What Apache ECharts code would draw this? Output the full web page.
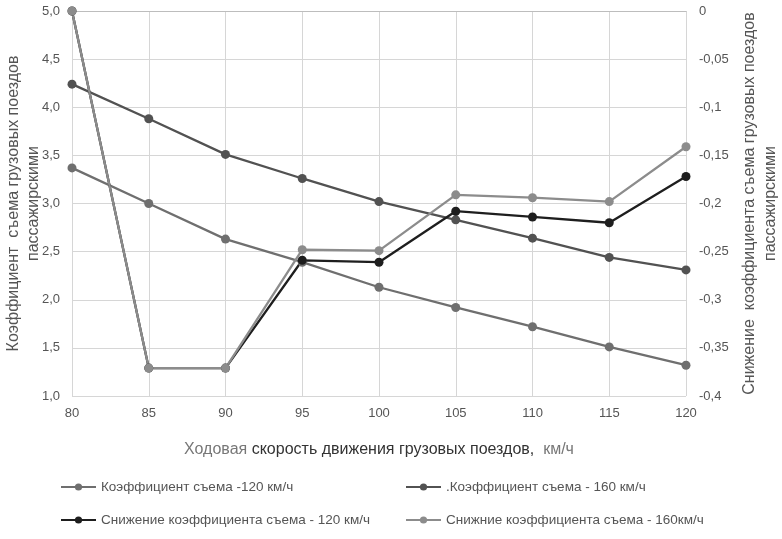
<!DOCTYPE html>
<html><head><meta charset="utf-8">
<script src="https://cdn.jsdelivr.net/npm/echarts@6/dist/echarts.min.js"></script>
<style>html,body{margin:0;padding:0;background:#fff}#c{width:782px;height:539px}</style>
</head><body><div id="c"></div>
<script>
const categories = ['80','85','90','95','100','105','110','115','120'];
const coef120 = [3.37, 3.00, 2.63, 2.39, 2.13, 1.92, 1.72, 1.51, 1.32];
const coef160 = [4.24, 3.88, 3.51, 3.26, 3.02, 2.83, 2.64, 2.44, 2.31];
const drop120 = [0, -0.371, -0.371, -0.259, -0.261, -0.208, -0.214, -0.220, -0.172];
const drop160 = [0, -0.371, -0.371, -0.248, -0.249, -0.191, -0.194, -0.198, -0.141];
const names = ['Коэффициент съема -120 км/ч', '.Коэффициент съема - 160 км/ч', 'Снижение коэффициента съема - 120 км/ч', 'Снижние коэффициента съема - 160км/ч'];
const colors = ['#6f6f6f', '#525252', '#1e1e1e', '#8c8c8c'];
const font = '"Liberation Sans", Arial, sans-serif';

const chart = echarts.init(document.getElementById('c'), null, {renderer: 'canvas'});
function mk(i, data, yIdx) {
  return {
    name: names[i], type: 'line', data: data, yAxisIndex: yIdx,
    symbol: 'circle', symbolSize: 9, color: colors[i],
    lineStyle: {width: 2.3, color: colors[i]}, itemStyle: {color: colors[i]},
    emphasis: {disabled: true}, animation: false
  };
}
function legendFor(data, left) {
  return {
    data: data, left: left, orient: 'vertical', top: 480, padding: 0, height: 59,
    itemGap: 19, itemWidth: 35, itemHeight: 9,
    textStyle: {color: '#555', fontSize: 13.5, fontFamily: font}
  };
}
chart.setOption({
  backgroundColor: '#fff',
  textStyle: {fontFamily: font},
  grid: {left: 72, right: 96, top: 11, bottom: 143, containLabel: false, outerBoundsMode: 'none'},
  xAxis: {
    type: 'category', data: categories, boundaryGap: false,
    axisLine: {lineStyle: {color: '#bdbdbd', width: 1}},
    axisTick: {show: false},
    axisLabel: {color: '#555', fontSize: 13, margin: 11, fontFamily: font},
    splitLine: {show: true, lineStyle: {color: '#d6d6d6', width: 1}},
    name: '{a|Ходовая }{b|скорость движения грузовых поездов,}{a|  км/ч}',
    nameLocation: 'middle', nameGap: 46,
    nameTextStyle: {rich: {
      a: {color: '#777', fontSize: 16, fontFamily: font},
      b: {color: '#333', fontSize: 16, fontFamily: font}
    }}
  },
  yAxis: [{
    type: 'value', min: 1.0, max: 5.0, interval: 0.5, position: 'left',
    axisLine: {show: false}, axisTick: {show: false},
    axisLabel: {color: '#555', fontSize: 13, margin: 12, fontFamily: font,
      formatter: v => v.toFixed(1).replace('.', ',')},
    splitLine: {show: true, lineStyle: {color: '#d6d6d6', width: 1}},
    name: 'Коэффициент  съема грузовых поездов\nпассажирскими',
    nameLocation: 'middle', nameGap: 28, nameRotate: 90, nameMoveOverlap: false,
    nameTextStyle: {color: '#555', fontSize: 16, lineHeight: 20, fontFamily: font}
  }, {
    type: 'value', min: -0.4, max: 0, interval: 0.05, position: 'right',
    axisLine: {show: false}, axisTick: {show: false},
    axisLabel: {color: '#555', fontSize: 13, margin: 13, fontFamily: font,
      formatter: v => String(Math.round(v * 100) / 100).replace('.', ',')},
    splitLine: {show: false},
    name: 'Снижение  коэффициента съема грузовых поездов\nпассажирскими',
    nameLocation: 'middle', nameGap: 52, nameRotate: 90,
    nameTextStyle: {color: '#555', fontSize: 16, lineHeight: 21, fontFamily: font}
  }],
  legend: [legendFor([names[0], names[2]], 60), legendFor([names[1], names[3]], 405)],
  series: [mk(0, coef120, 0), mk(1, coef160, 0), mk(2, drop120, 1), mk(3, drop160, 1)]
});
</script></body></html>
